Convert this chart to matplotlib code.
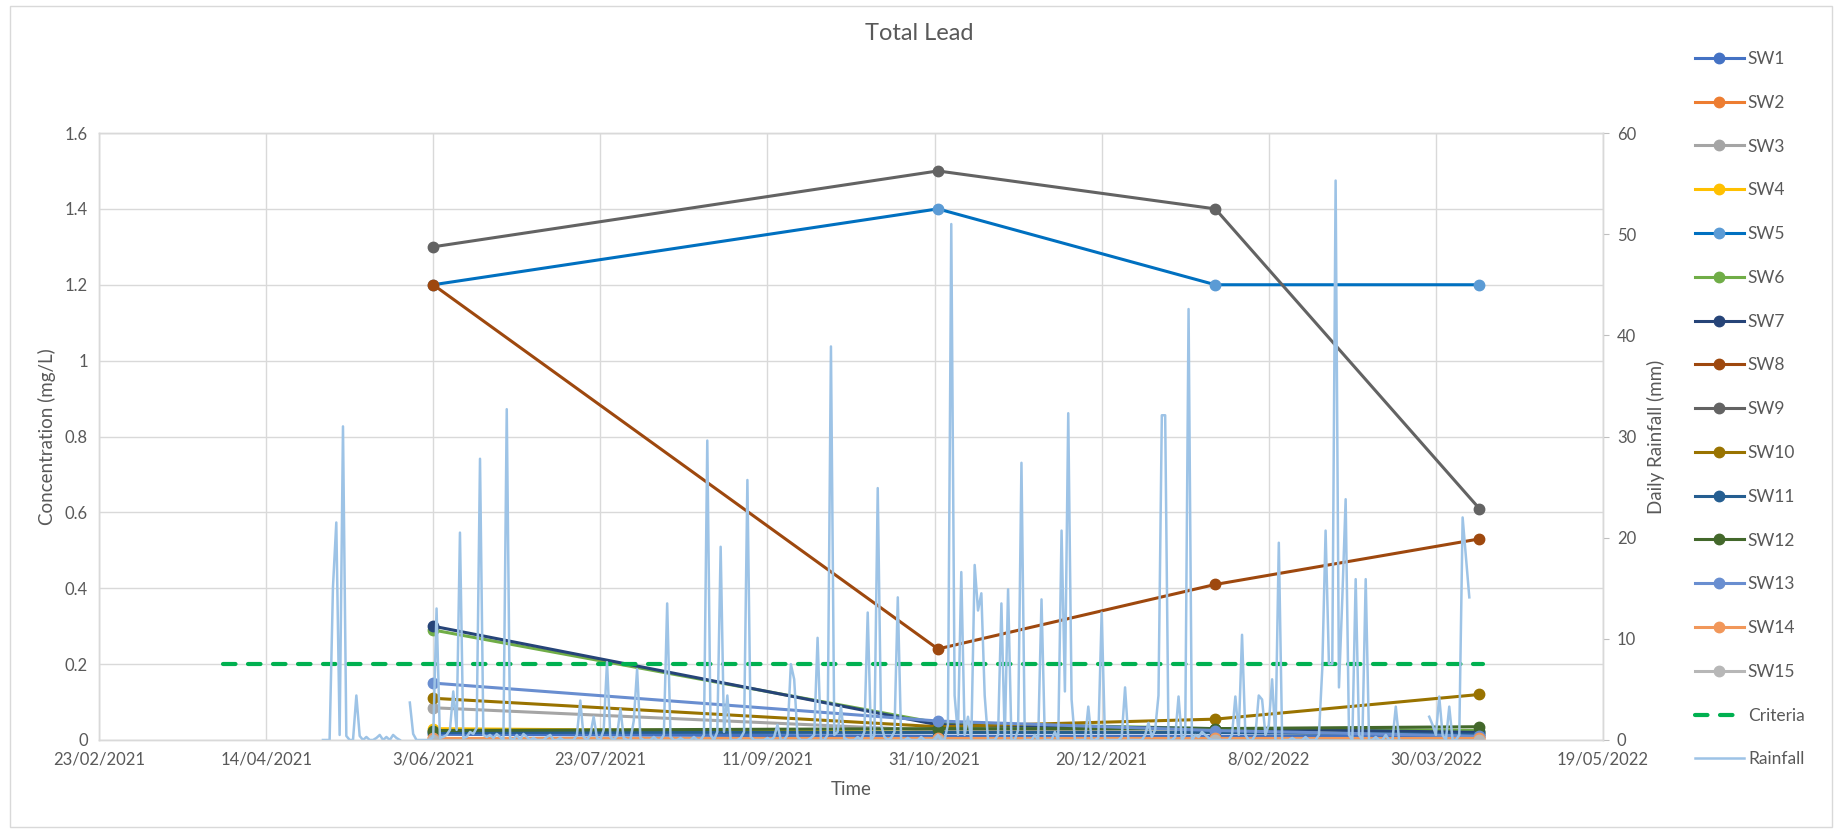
import datetime as dt
import numpy as np
import matplotlib
matplotlib.use("Agg")
import matplotlib.pyplot as plt
import matplotlib.dates as mdates
from matplotlib.patches import Rectangle
from matplotlib.ticker import FixedLocator, FuncFormatter, MultipleLocator

plt.rcParams['font.family'] = ['Lato', 'DejaVu Sans']

# ---- data ----
sample_dates = [dt.date(2021, 6, 3), dt.date(2021, 11, 1), dt.date(2022, 1, 23), dt.date(2022, 4, 12)]

sw1 = [0.015, 0.01, 0.01, 0.01]
sw2 = [0.005, 0.005, 0.005, 0.005]
sw3 = [0.085, 0.025, 0.02, 0.015]
sw4 = [0.03, 0.02, 0.02, 0.02]
sw5 = [1.2, 1.4, 1.2, 1.2]
sw6 = [0.29, 0.045, 0.03, 0.025]
sw7 = [0.30, 0.04, 0.03, 0.02]
sw8 = [1.2, 0.24, 0.41, 0.53]
sw9 = [1.3, 1.5, 1.4, 0.61]
sw10 = [0.11, 0.035, 0.055, 0.12]
sw11 = [0.02, 0.02, 0.02, 0.015]
sw12 = [0.025, 0.03, 0.03, 0.035]
sw13 = [0.15, 0.05, 0.025, 0.01]
sw14 = [0.005, 0.005, 0.005, 0.005]
sw15 = [0.0, 0.0, 0.0, 0.0]

site_names = ['SW1', 'SW2', 'SW3', 'SW4', 'SW5', 'SW6', 'SW7', 'SW8',
              'SW9', 'SW10', 'SW11', 'SW12', 'SW13', 'SW14', 'SW15']
site_values = [sw1, sw2, sw3, sw4, sw5, sw6, sw7, sw8, sw9, sw10, sw11, sw12, sw13, sw14, sw15]

criteria_value = 0.2
criteria_dates = [dt.date(2021, 4, 1), dt.date(2022, 4, 13)]

# daily rainfall (mm) from 1/05/2021, nan = no record
rain_start = dt.date(2021, 5, 1)
rainfall = [
    0, 0, 0, 15.1, 21.5, 0.5, 31.0, 0.4, 0, 0,
    4.4, 0.4, 0, 0.3, 0, 0, 0.2, 0.5, 0, 0.3,
    0, 0.5, 0.2, 0, np.nan, np.nan, 3.7, 0.6, 0, 0,
    0, 0, 0, 0.3, 13.0, 0.2, 0.3, 0.5, 1.0, 4.8,
    1.0, 20.5, 0.2, 0.3, 0.8, 0.6, 1.2, 27.8, 0.5, 0.3,
    0.5, 0.2, 0.6, 0.3, 0, 32.7, 0.2, 0, 0.5, 0,
    0.6, 0.3, 0, 0.2, 0, 0, 0, 0.3, 0.5, 0,
    0, 0.2, 0, 0, 0, 0, 0.5, 3.9, 0.3, 0,
    0.5, 2.3, 0.2, 0, 1.0, 7.7, 0.3, 0, 0.4, 3.1,
    0.2, 0, 0, 1.9, 7.0, 0.2, 0, 0, 0, 0.3,
    0, 0, 0.5, 13.5, 0.3, 0, 0, 0.2, 0, 0,
    0, 0.3, 0, 0, 0.5, 29.6, 0.5, 0, 0.8, 19.1,
    0.8, 4.4, 0, 0, 0, 0.2, 0.8, 25.7, 0.3, 0,
    0, 0, 0, 0.2, 0, 0.3, 1.5, 0, 0, 0.5,
    7.5, 6.0, 0.3, 0, 0, 0, 0.2, 0.5, 10.1, 0,
    0, 0.5, 38.9, 0.5, 0.8, 3.3, 0.2, 0, 0, 0,
    0.3, 0, 0.8, 12.6, 0, 0.5, 24.9, 1.5, 0.3, 0,
    0.2, 0.8, 14.1, 0, 0, 0.2, 0, 0, 0, 0.3,
    0, 0, 0, 0, 0.5, 0, 0, 1.5, 51.0, 4.4,
    0.5, 16.6, 0.5, 2.3, 0, 17.3, 12.8, 14.5, 4.4, 0,
    0, 0, 0.5, 13.5, 0, 14.9, 0, 0, 1.0, 27.4,
    0, 0, 0, 0.5, 0, 13.9, 0, 0, 0, 0.8,
    0, 20.7, 4.8, 32.3, 4.0, 0, 0, 0, 0, 3.3,
    0, 0, 0.2, 12.6, 0, 0, 0, 0, 0, 0.3,
    5.2, 0, 0, 0, 0, 0, 0.5, 1.7, 0.3, 1.0,
    4.4, 32.1, 32.1, 0, 0, 0.3, 4.3, 0, 0.5, 42.6,
    0, 0.5, 0.3, 0.8, 0.5, 0.2, 0, 0, 0, 0,
    0, 0, 0.5, 4.3, 0.5, 10.4, 0.5, 0, 0, 0.5,
    4.4, 4.0, 0.5, 1.5, 6.0, 0, 19.5, 0, 0, 0,
    0.2, 0, 0, 0, 0.3, 0, 0, 0, 0.5, 7.0,
    20.7, 7.5, 7.5, 55.3, 5.2, 14.0, 23.8, 0.5, 0, 15.9,
    0.5, 0, 15.9, 0, 0, 0.3, 0, 0, 0.5, 0,
    0, 3.3, 0, np.nan, np.nan, np.nan, np.nan, np.nan, np.nan, np.nan,
    np.nan, 2.3, 1.5, 0.5, 4.3, 0.5, 0, 3.3, 0, 0,
    0.5, 22.0, 18.0, 14.1,
]

x_start = dt.date(2021, 2, 23)
x_end = dt.date(2022, 5, 19)

# ---- styling ----
line_colors = ['#4472C4', '#ED7D31', '#A5A5A5', '#FFC000', '#0070C0', '#70AD47', '#264478', '#9E480E',
               '#636363', '#997300', '#255E91', '#43682B', '#698ED0', '#F1975A', '#B7B7B7']
marker_colors = list(line_colors)
marker_colors[4] = '#5B9BD5'
text_col = '#595959'
grid_col = '#D9D9D9'

fig = plt.figure(figsize=(18.48, 8.32), dpi=100)
fig.patches.append(Rectangle((10 / 1848, 5 / 832), 1822 / 1848, 821 / 832, transform=fig.transFigure,
                             fill=False, edgecolor=grid_col, linewidth=1.0))

ax = fig.add_axes([99 / 1848, 92 / 832, 1504 / 1848, 607 / 832])
ax2 = ax.twinx()

handles = []
for name, vals, lc, mc in zip(site_names, site_values, line_colors, marker_colors):
    h, = ax.plot(sample_dates, vals, color=lc, lw=2.2, marker='o', ms=7.5,
                 markerfacecolor=mc, markeredgecolor=mc, label=name, zorder=3)
    handles.append(h)

crit, = ax.plot(criteria_dates, [criteria_value] * len(criteria_dates), color='#00B050', lw=3.0,
                dashes=(3, 3), dash_capstyle='round', label='Criteria', zorder=4)
handles.append(crit)

rain_dates = [rain_start + dt.timedelta(days=i) for i in range(len(rainfall))]
rain, = ax2.plot(rain_dates, rainfall, color='#9DC3E6', lw=1.8, label='Rainfall')
handles.append(rain)

# axes
ax.set_xlim(x_start, x_end)
ax.set_ylim(0, 1.6)
ax2.set_ylim(0, 60)
x0 = mdates.date2num(x_start)
x1 = mdates.date2num(x_end)
ax.xaxis.set_major_locator(FixedLocator(np.arange(x0, x1 + 1, 50)))
ax.xaxis.set_major_formatter(FuncFormatter(
    lambda v, p: f"{mdates.num2date(v).day}/{mdates.num2date(v).month:02d}/{mdates.num2date(v).year}"))
ax.yaxis.set_major_locator(MultipleLocator(0.2))
ax.yaxis.set_major_formatter(FuncFormatter(lambda v, p: f"{round(v, 1):g}"))
ax2.yaxis.set_major_locator(MultipleLocator(10))

ax.grid(True, color=grid_col, lw=1.0, zorder=0)
ax.set_axisbelow(True)
for a in (ax, ax2):
    for s in a.spines.values():
        s.set_color(grid_col)
        s.set_linewidth(1.0)
ax.tick_params(axis='both', length=0, labelsize=12, labelcolor=text_col, pad=8)
ax2.tick_params(axis='y', length=4, color='#BFBFBF', labelsize=12, labelcolor=text_col, pad=6)

ax.set_xlabel('Time', fontsize=13.5, color=text_col, labelpad=10)
ax.set_ylabel('Concentration (mg/L)', fontsize=13.5, color=text_col, labelpad=6)
ax2.set_ylabel('Daily Rainfall (mm)', fontsize=13.5, color=text_col, labelpad=8)

fig.text(919 / 1848, 1 - 33 / 832, 'Total Lead', ha='center', va='center', fontsize=17, color=text_col)

leg = fig.legend(handles=handles, loc='upper left', bbox_to_anchor=(1688 / 1848, 1 - 44 / 832),
                 frameon=False, fontsize=12.5, labelspacing=1.6, handlelength=2.8, handletextpad=0.25,
                 numpoints=1, borderaxespad=0)
for t in leg.get_texts():
    t.set_color(text_col)

fig.savefig('out.png', dpi=100)
